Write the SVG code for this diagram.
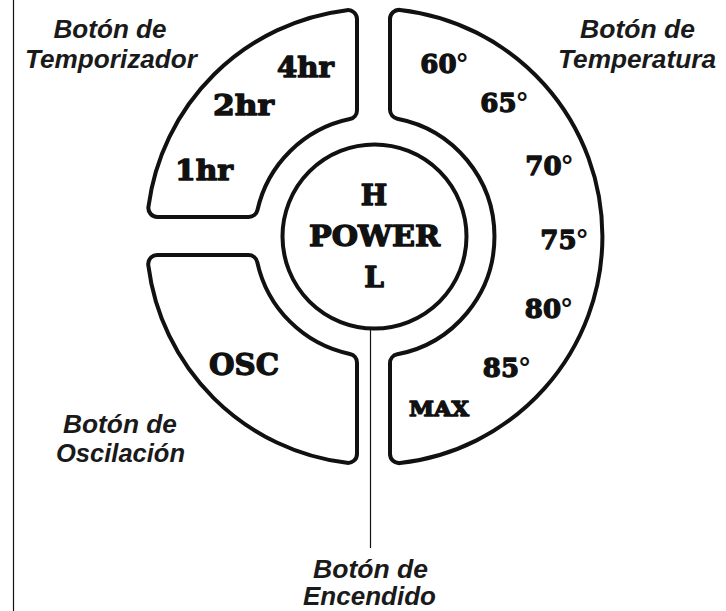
<svg xmlns="http://www.w3.org/2000/svg" width="726" height="611" viewBox="0 0 726 611">
<style>
.seg{fill:#fff;stroke:#111;stroke-width:4;stroke-linejoin:round}
.lbl{font-family:"Liberation Sans",Arial,sans-serif;font-weight:bold;font-style:italic;font-size:25px;fill:#1a1a1a;text-anchor:middle}
.btn{font-family:"DejaVu Serif","Liberation Serif",serif;font-weight:bold;fill:#111;stroke:#111;stroke-width:1.3;stroke-linejoin:round;text-anchor:middle}
.deg{font-family:"Liberation Sans",Arial,sans-serif;font-weight:bold;font-size:28px;stroke-width:0}
.thin{stroke:#111;stroke-width:1.2;fill:none}
</style>
<rect width="726" height="611" fill="#fff"/>
<line class="thin" x1="13.5" y1="0" x2="13.5" y2="611"/>
<g id="timer">
<path class="seg" d="M148.44,206.83 A228,228 0 0 1 346.91,10.18 A9,9 0 0 1 357,19.11 L357,110.25 A9,9 0 0 1 349.85,119.06 A120,120 0 0 0 257.47,209.99 A9,9 0 0 1 248.69,217 L157.36,217 A9,9 0 0 1 148.44,206.83 Z"/>
<text class="btn" x="305.5" y="77" font-size="27" textLength="57" lengthAdjust="spacingAndGlyphs">4hr</text>
<text class="btn" x="243.5" y="115" font-size="27" textLength="61" lengthAdjust="spacingAndGlyphs">2hr</text>
<text class="btn" x="204" y="180" font-size="27" textLength="58" lengthAdjust="spacingAndGlyphs">1hr</text>
<text class="lbl" x="110" y="38" textLength="113" lengthAdjust="spacingAndGlyphs">Botón de</text>
<text class="lbl" x="111" y="68" textLength="172" lengthAdjust="spacingAndGlyphs">Temporizador</text>
</g>
<g id="temperature">
<path class="seg" d="M390,18.88 A9,9 0 0 1 400.01,9.94 A228,228 0 0 1 400.01,463.06 A9,9 0 0 1 390,454.12 L390,363.15 A9,9 0 0 1 397.29,354.31 A120,120 0 0 0 397.29,118.69 A9,9 0 0 1 390,109.85 Z"/>
<text class="btn" x="444" y="73" font-size="26">60<tspan class="deg">°</tspan></text>
<text class="btn" x="504" y="112" font-size="26">65<tspan class="deg">°</tspan></text>
<text class="btn" x="549" y="175" font-size="26">70<tspan class="deg">°</tspan></text>
<text class="btn" x="564" y="249" font-size="26">75<tspan class="deg">°</tspan></text>
<text class="btn" x="548.5" y="318" font-size="26">80<tspan class="deg">°</tspan></text>
<text class="btn" x="506.5" y="377" font-size="26">85<tspan class="deg">°</tspan></text>
<text class="btn" x="439" y="416" font-size="20" textLength="60" lengthAdjust="spacingAndGlyphs">MAX</text>
<text class="lbl" x="637.5" y="38" textLength="115" lengthAdjust="spacingAndGlyphs">Botón de</text>
<text class="lbl" x="637" y="68" textLength="158" lengthAdjust="spacingAndGlyphs">Temperatura</text>
</g>
<g id="oscillation">
<path class="seg" d="M157.23,255 L248.47,255 A9,9 0 0 1 257.26,262.08 A120,120 0 0 0 349.85,353.94 A9,9 0 0 1 357,362.75 L357,453.89 A9,9 0 0 1 346.91,462.82 A228,228 0 0 1 148.30,265.13 A9,9 0 0 1 157.23,255 Z"/>
<text class="btn" x="244" y="375" font-size="30" textLength="70" lengthAdjust="spacingAndGlyphs">OSC</text>
<text class="lbl" x="120" y="433" textLength="114" lengthAdjust="spacingAndGlyphs">Botón de</text>
<text class="lbl" x="120.5" y="462" textLength="129" lengthAdjust="spacingAndGlyphs">Oscilación</text>
</g>
<g id="power">
<circle class="seg" cx="374.5" cy="236.5" r="92"/>
<text class="btn" x="374" y="205" font-size="28">H</text>
<text class="btn" x="374.5" y="246" font-size="28" textLength="131" lengthAdjust="spacingAndGlyphs">POWER</text>
<text class="btn" x="374" y="287" font-size="28">L</text>
<text class="lbl" x="370.5" y="578" textLength="115" lengthAdjust="spacingAndGlyphs">Botón de</text>
<text class="lbl" x="369.5" y="605" textLength="133" lengthAdjust="spacingAndGlyphs">Encendido</text>
</g>
<g id="connectors">
<line class="thin" x1="370.5" y1="330" x2="370.5" y2="548"/>
</g>
</svg>
